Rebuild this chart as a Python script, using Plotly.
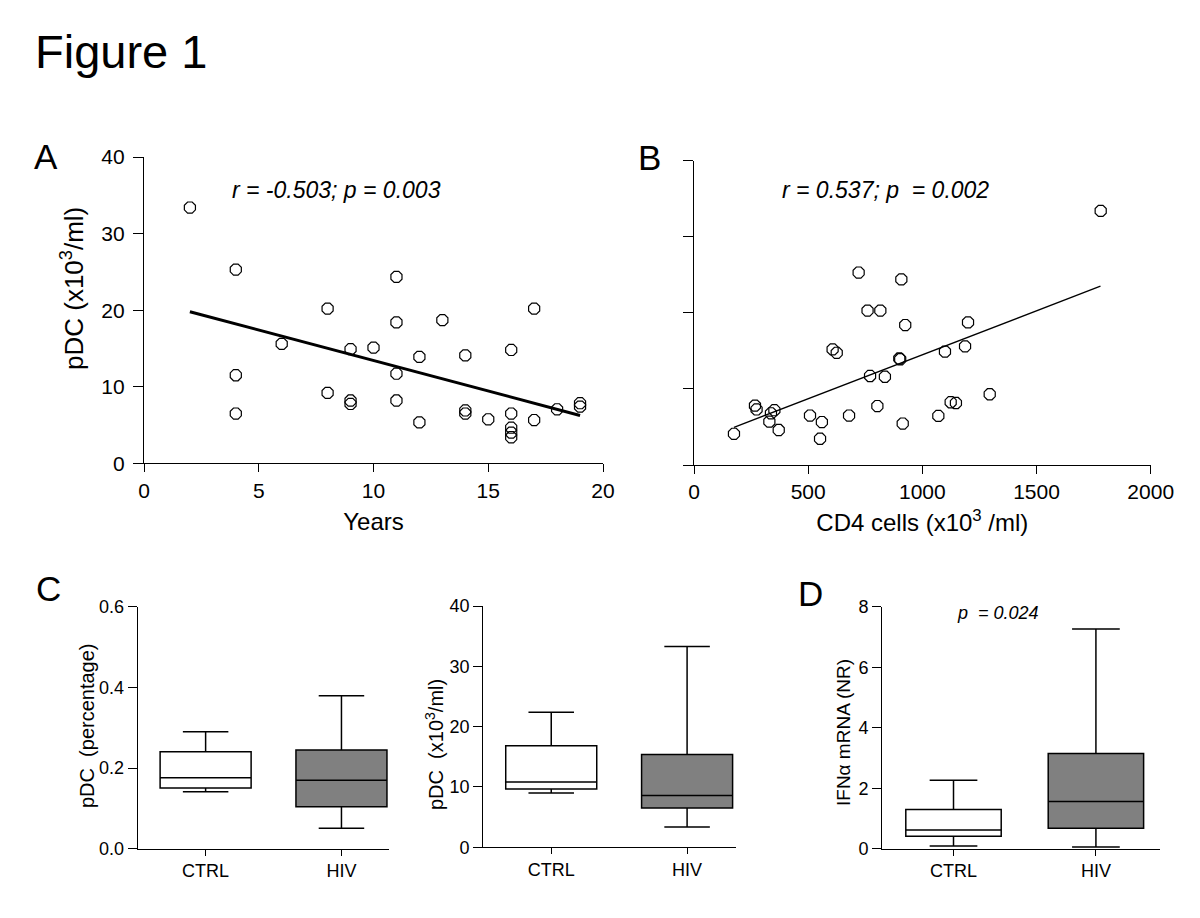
import plotly.graph_objects as go

W, H = 1200, 918
FONT = "Liberation Sans, Arial, sans-serif"

# ---------------- Data ----------------
# Panel A: pDC vs years of infection
years = [2, 4, 4, 4, 6, 8, 8, 9, 9, 9, 10, 11, 11, 11, 11, 12, 12, 13, 14, 14,
         14, 15, 16, 16, 16, 16, 16, 17, 17, 18, 19, 19]
pdc_a = [33.4, 25.3, 11.5, 6.5, 15.6, 20.2, 9.2, 14.9, 8.2, 7.75, 15.1, 24.35, 18.4, 11.7, 8.2,
         13.9, 5.35, 18.7, 14.1, 6.9, 6.5, 5.75, 14.8, 6.5, 4.65, 4.0, 3.4, 20.2, 5.65, 7.05,
         7.85, 7.4]
fit_a_x = [2, 19]
fit_a_y = [19.8, 6.25]

# Panel B: pDC vs CD4 cells
cd4 = [175, 267, 274, 330, 337, 352, 371, 508, 552, 560, 607, 625, 679, 721, 760, 771, 803,
       816, 836, 899, 903, 908, 914, 925, 1070, 1099, 1124, 1147, 1187, 1200, 1295, 1781]
pdc_b = [4.1, 7.8, 7.3, 5.7, 6.8, 7.2, 4.6, 6.5, 3.45, 5.65, 15.2, 14.75, 6.5, 25.3, 20.3,
         11.7, 7.75, 20.3, 11.6, 14.0, 13.9, 24.4, 5.45, 18.4, 6.45, 14.9, 8.25, 8.15, 15.6,
         18.75, 9.3, 33.4]
fit_b_x = [175, 1780]
fit_b_y = [4.95, 23.5]

# Panels C & D: box statistics
groups = ["CTRL", "HIV"]
pct_low = [0.141, 0.0505]
pct_q1 = [0.1505, 0.104]
pct_med = [0.176, 0.170]
pct_q3 = [0.2405, 0.2447]
pct_high = [0.29, 0.379]

abs_low = [9.0, 3.37]
abs_q1 = [9.67, 6.5]
abs_med = [10.83, 8.6]
abs_q3 = [16.85, 15.4]
abs_high = [22.4, 33.3]

ifn_low = [0.09, 0.056]
ifn_q1 = [0.41, 0.68]
ifn_med = [0.615, 1.56]
ifn_q3 = [1.30, 3.15]
ifn_high = [2.26, 7.26]

box_fill = ["white", "#808080"]

# ---------------- Helpers ----------------
def px(x):
    return x / W


def py(y):
    return 1 - y / H


fig = go.Figure()

marker = dict(symbol="octagon-open", size=12, color="black", line=dict(width=1.2, color="black"))

fig.add_trace(go.Scatter(x=years, y=pdc_a, mode="markers", marker=marker,
                         xaxis="x", yaxis="y", cliponaxis=False))
fig.add_trace(go.Scatter(x=fit_a_x, y=fit_a_y, mode="lines", line=dict(color="black", width=3),
                         xaxis="x", yaxis="y"))
fig.add_trace(go.Scatter(x=cd4, y=pdc_b, mode="markers", marker=marker,
                         xaxis="x2", yaxis="y2", cliponaxis=False))
fig.add_trace(go.Scatter(x=fit_b_x, y=fit_b_y, mode="lines", line=dict(color="black", width=1.3),
                         xaxis="x2", yaxis="y2"))


def add_boxes(low, q1, med, q3, high, xa, ya):
    for i, g in enumerate(groups):
        fig.add_trace(go.Box(
            x=[g], lowerfence=[low[i]], q1=[q1[i]], median=[med[i]], q3=[q3[i]],
            upperfence=[high[i]], width=0.67, whiskerwidth=0.5,
            fillcolor=box_fill[i], line=dict(color="black", width=1.5),
            boxpoints=False, xaxis=xa, yaxis=ya, hoverinfo="skip"))


add_boxes(pct_low, pct_q1, pct_med, pct_q3, pct_high, "x3", "y3")
add_boxes(abs_low, abs_q1, abs_med, abs_q3, abs_high, "x4", "y4")
add_boxes(ifn_low, ifn_q1, ifn_med, ifn_q3, ifn_high, "x5", "y5")


def axis(domain, rng, tickfont, ticklen, **kw):
    d = dict(domain=domain, range=rng, showline=True, linecolor="black", linewidth=1.3,
             ticks="outside", ticklen=ticklen, tickwidth=1.3, tickcolor="black",
             showgrid=False, zeroline=False, automargin=False,
             tickfont=dict(family=FONT, size=tickfont, color="black"),
             fixedrange=True)
    d.update(kw)
    return d


big_title = dict(family=FONT, size=24, color="black")

layout = dict(
    width=W, height=H, margin=dict(l=0, r=0, t=0, b=0, pad=0, autoexpand=False),
    paper_bgcolor="white", plot_bgcolor="white", showlegend=False,
    font=dict(family=FONT, color="black"),
    # Panel A
    xaxis=axis([px(144), px(603)], [0, 20], 21, 8, anchor="y", tickvals=[0, 5, 10, 15, 20],
               title=dict(text="Years", font=big_title, standoff=12)),
    yaxis=axis([py(463.3), py(157)], [0, 40], 21, 10, anchor="x", tickvals=[0, 10, 20, 30, 40],
               ticklabelstandoff=4),
    # Panel B
    xaxis2=axis([px(694), px(1150.7)], [0, 2000], 21, 8, anchor="y2",
                tickvals=[0, 500, 1000, 1500, 2000],
                title=dict(text="CD4 cells (x10<sup>3</sup> /ml)", font=big_title, standoff=11)),
    yaxis2=axis([py(465), py(160.7)], [0, 40], 21, 10, anchor="x2", tickvals=[0, 10, 20, 30, 40],
                showticklabels=False),
    # Panel C left
    xaxis3=axis([px(137.7), px(389)], [-0.5, 1.35], 18, 6, anchor="y3", type="category"),
    yaxis3=axis([py(848.7), py(606.7)], [0, 0.6], 18, 9, anchor="x3",
                tickvals=[0, 0.2, 0.4, 0.6], ticktext=["0.0", "0.2", "0.4", "0.6"]),
    # Panel C middle
    xaxis4=axis([px(483.3), px(736)], [-0.5, 1.36], 18, 6, anchor="y4", type="category"),
    yaxis4=axis([py(847.3), py(606)], [0, 40], 18, 9, anchor="x4", tickvals=[0, 10, 20, 30, 40]),
    # Panel D
    xaxis5=axis([px(882.3), px(1160)], [-0.5, 1.45], 18, 6, anchor="y5", type="category"),
    yaxis5=axis([py(848.7), py(606.7)], [0, 8], 18, 9, anchor="x5", tickvals=[0, 2, 4, 6, 8]),
)
fig.update_layout(**layout)

# text labels: (text, x px, y px, size, italic, angle, xanchor)
annotations = [
    ("Figure 1", 33, 52, 47, False, 0, "left"),
    ("A", 32, 156, 35, False, 0, "left"),
    ("B", 636, 158, 35, False, 0, "left"),
    ("C", 34, 588, 35, False, 0, "left"),
    ("D", 796, 593, 35, False, 0, "left"),
    ("r = -0.503; p = 0.003", 230, 190, 23, True, 0, "left"),
    ("r = 0.537; p\u00a0\u00a0= 0.002", 780, 190, 23, True, 0, "left"),
    ("p\u00a0\u00a0= 0.024", 955, 613, 18, True, 0, "left"),
    # rotated y-axis titles
    ("pDC (x10<sup>3</sup>/ml)", 72, 289, 26, False, -90, "center"),
    ("pDC\u00a0\u00a0(percentage)", 87, 726, 20, False, -90, "center"),
    ("pDC\u00a0\u00a0(x10<sup>3</sup>/ml)", 434, 745, 20, False, -90, "center"),
    ("IFN\u03b1 mRNA (NR)", 843, 733, 19, False, -90, "center"),
]
for text, x, y, size, italic, angle, xanchor in annotations:
    txt = "<i>" + text + "</i>" if italic else text
    fig.add_annotation(text=txt, x=px(x), y=py(y), xref="paper", yref="paper",
                       xanchor=xanchor, yanchor="middle", showarrow=False, textangle=angle,
                       font=dict(family=FONT, size=size, color="black"))

fig.write_html(
    "out.html",
    config={"displayModeBar": False},
    post_script="document.body.style.margin='0';document.documentElement.style.overflow='hidden';",
)
